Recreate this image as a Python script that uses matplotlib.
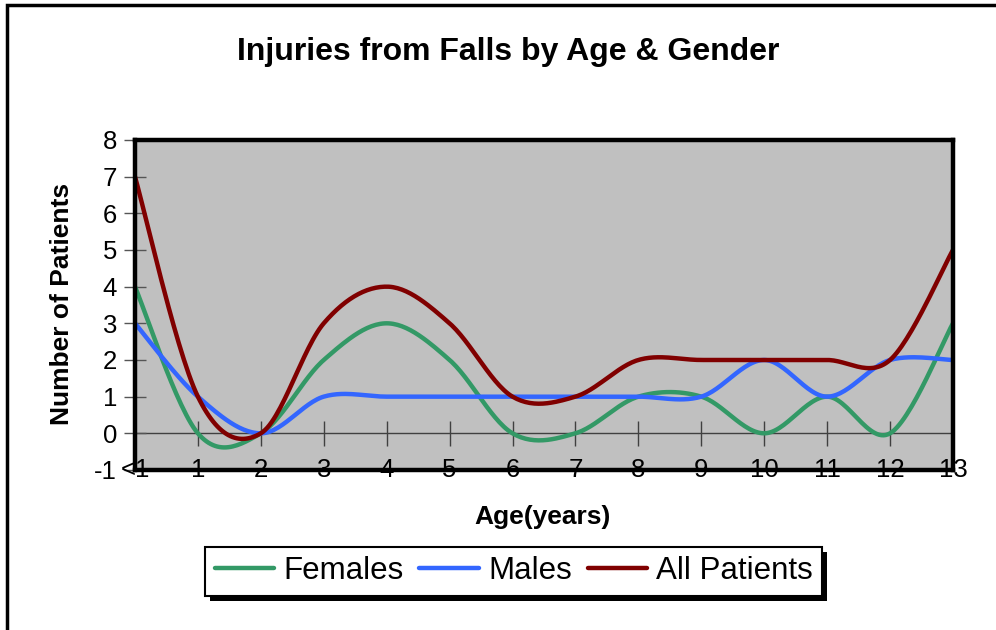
import numpy as np
import matplotlib
matplotlib.use("Agg")
import matplotlib.pyplot as plt
import matplotlib.patches as patches

plt.rcParams['font.family'] = ['Liberation Sans', 'DejaVu Sans']
plt.rcParams['axes.unicode_minus'] = False

ages = ["<1", "1", "2", "3", "4", "5", "6", "7", "8", "9", "10", "11", "12", "13"]
females = [4, 0, 0, 2, 3, 2, 0, 0, 1, 1, 0, 1, 0, 3]
males = [3, 1, 0, 1, 1, 1, 1, 1, 1, 1, 2, 1, 2, 2]
all_patients = [7, 1, 0, 3, 4, 3, 1, 1, 2, 2, 2, 2, 2, 5]


def smooth(ys, steps=30):
    # excel style smoothed line: bezier segments with catmull-rom control points
    xs = np.arange(len(ys), dtype=float)
    ys = np.asarray(ys, dtype=float)
    px = np.concatenate([[xs[0]], xs, [xs[-1]]])
    py = np.concatenate([[ys[0]], ys, [ys[-1]]])
    t = np.linspace(0, 1, steps)
    outx, outy = [], []
    for i in range(1, len(px) - 2):
        p0x, p1x, p2x, p3x = px[i - 1], px[i], px[i + 1], px[i + 2]
        p0y, p1y, p2y, p3y = py[i - 1], py[i], py[i + 1], py[i + 2]
        c1x = p1x + (p2x - p0x) / 6
        c1y = p1y + (p2y - p0y) / 6
        c2x = p2x - (p3x - p1x) / 6
        c2y = p2y - (p3y - p1y) / 6
        bx = (1 - t) ** 3 * p1x + 3 * (1 - t) ** 2 * t * c1x + 3 * (1 - t) * t ** 2 * c2x + t ** 3 * p2x
        by = (1 - t) ** 3 * p1y + 3 * (1 - t) ** 2 * t * c1y + 3 * (1 - t) * t ** 2 * c2y + t ** 3 * p2y
        outx.extend(bx)
        outy.extend(by)
    return np.array(outx), np.array(outy)


fig = plt.figure(figsize=(9.96, 6.3), dpi=100)
ax = fig.add_axes([0.1355, 0.254, 0.8213, 0.5238])
ax.set_facecolor('#C0C0C0')

# zero line with cross ticks
ax.axhline(0, color='#404040', lw=1, zorder=1)
ax.plot(range(1, len(ages) - 1), [0] * (len(ages) - 2), ls='none', marker='|',
        markersize=18, markeredgewidth=1, color='#404040', zorder=1)

series = [("Females", females, '#339966'),
          ("Males", males, '#3366FF'),
          ("All Patients", all_patients, '#800000')]
for name, vals, col in series:
    sx, sy = smooth(vals)
    ax.plot(sx, sy, color=col, lw=3.2, label=name, solid_capstyle='round', zorder=3)

ax.set_xlim(0, len(ages) - 1)
ax.set_ylim(-1, 8)
ax.set_yticks(range(-1, 9))
ax.set_xticks([])
ax.tick_params(axis='y', direction='inout', length=16, width=1, color='#555555',
               labelsize=18.5, pad=5)
for sp in ax.spines.values():
    sp.set_linewidth(3.2)
    sp.set_color('black')
    sp.set_zorder(4)

for i, lab in enumerate(ages):
    ax.text(i, -1, lab, ha='center', va='center', fontsize=18.5, zorder=6, clip_on=False)

fig.text(0.510, 0.918, "Injuries from Falls by Age & Gender", ha='center', va='center',
         fontsize=23, fontweight='bold')
fig.text(0.545, 0.179, "Age(years)", ha='center', va='center', fontsize=19, fontweight='bold')
fig.text(0.062, 0.517, "Number of Patients", ha='center', va='center', rotation=90,
         fontsize=19, fontweight='bold')

leg = fig.legend(loc='center', bbox_to_anchor=(0.516, 0.093), ncol=3, fontsize=22.5,
                 handlelength=1.9, handletextpad=0.3, columnspacing=0.5, borderpad=0.3,
                 fancybox=False, edgecolor='black', framealpha=1)
leg.get_frame().set_linewidth(1.5)
leg.set_zorder(5)

# outer chart frame
fig.patches.append(patches.Rectangle((0.007, -0.05), 1.1, 0.992 + 0.05, fill=False,
                                     lw=2.5, edgecolor='black', transform=fig.transFigure))

# solid black drop shadow under the legend box
fig.canvas.draw()
bb = leg.get_window_extent()
fig.patches.append(patches.Rectangle((bb.x0 + 5, bb.y0 - 5), bb.width, bb.height,
                                     facecolor='black', edgecolor='none', transform=None,
                                     zorder=4))

fig.savefig("out.png", dpi=100)
